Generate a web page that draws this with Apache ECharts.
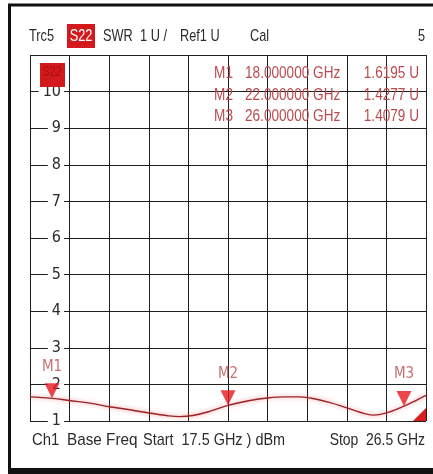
<!DOCTYPE html>
<html>
<head>
<meta charset="utf-8">
<script src="https://cdn.jsdelivr.net/npm/echarts@6/dist/echarts.min.js"></script>
<style>
  html, body { margin: 0; padding: 0; background: #fff; }
  #chart { width: 433px; height: 474px; }
</style>
</head>
<body>
<div id="chart"></div>
<script>
// trace S22 SWR
var freq = [17.5, 18.0, 18.4, 18.9, 19.3, 19.8, 20.2, 20.6, 20.9, 21.2, 21.6, 22.0, 22.5, 22.9, 23.3, 23.6, 23.9, 24.3, 24.7, 25.0, 25.3, 25.6, 26.0, 26.3, 26.5];
var swr = [1.66, 1.6195, 1.56, 1.48, 1.39, 1.30, 1.22, 1.15, 1.12, 1.15, 1.27, 1.4277, 1.56, 1.63, 1.66, 1.66, 1.62, 1.51, 1.36, 1.24, 1.16, 1.22, 1.4079, 1.58, 1.70];

// markers
var markerNames = ['M1', 'M2', 'M3'];
var markerFreq = [18.0, 22.0, 26.0];
var markerSwr = [1.6195, 1.4277, 1.4079];

var yTicks = [1, 2, 3, 4, 5, 6, 7, 8, 9, 10];

var sans = "'Liberation Sans', Arial, sans-serif";
var cond = "'DejaVu Sans Condensed', 'Liberation Sans', sans-serif";
var textCol = '#2b2b2b';
var mkCol = '#bb4a4e';

var chartDom = document.getElementById('chart');
var myChart = echarts.init(chartDom);

var traceData = freq.map(function (f, i) { return [f, swr[i]]; });
var markerData = markerFreq.map(function (f, i) { return [f, markerSwr[i]]; });

// text drawn squeezed sideways, like the analyser's narrow font
function txt(x, y, s, opt) {
  opt = opt || {};
  return {
    type: 'text',
    x: x,
    y: y,
    scaleX: opt.sx || 0.8,
    z: 20,
    style: {
      text: s,
      font: (opt.size || 16) + 'px ' + sans,
      fill: opt.color || textCol,
      textAlign: opt.align || 'left',
      textVerticalAlign: 'middle'
    }
  };
}

var graphics = [
  // outer frame
  { type: 'rect', shape: { x: 9.5, y: 5, width: 440, height: 465 }, style: { fill: 'none', stroke: '#111', lineWidth: 3 }, z: 20 },
  { type: 'rect', shape: { x: 8, y: 468, width: 440, height: 6 }, style: { fill: '#111' }, z: 20 },
  // header
  txt(29, 36, 'Trc5', { size: 17, sx: 0.75 }),
  { type: 'rect', shape: { x: 67, y: 24, width: 28, height: 24 }, style: { fill: '#d4191c' }, z: 20 },
  txt(81, 36, 'S22', { color: '#fff', align: 'center', size: 17, sx: 0.75 }),
  txt(103, 36, 'SWR', { size: 17, sx: 0.75 }),
  txt(140, 36, '1 U /', { size: 17, sx: 0.75 }),
  txt(180, 36, 'Ref1 U', { size: 17, sx: 0.75 }),
  txt(250, 36, 'Cal', { size: 17, sx: 0.75 }),
  txt(425, 36, '5', { align: 'right', size: 17, sx: 0.75 }),
  // trace label box inside grid
  { type: 'rect', shape: { x: 40, y: 63, width: 25, height: 24 }, style: { fill: '#d4191c' }, z: 20 },
  txt(52, 72, 'S22', { color: '#a80e12', align: 'center', size: 14 }),
  // footer
  txt(32, 440, 'Ch1', { size: 17, sx: 0.88 }),
  txt(67, 440, 'Base Freq', { size: 17, sx: 0.9 }),
  txt(143, 440, 'Start  17.5 GHz ) dBm', { size: 17, sx: 0.85 }),
  txt(425, 440, 'Stop  26.5 GHz', { align: 'right', size: 17, sx: 0.82 })
];

// marker readout table
var rowY = [74, 96, 117];
markerNames.forEach(function (n, i) {
  graphics.push(txt(233, rowY[i], n, { color: mkCol, align: 'right', sx: 0.85 }));
  graphics.push(txt(245, rowY[i], markerFreq[i].toFixed(6) + ' GHz', { color: mkCol, sx: 0.85 }));
  graphics.push(txt(419, rowY[i], markerSwr[i].toFixed(4) + ' U', { color: mkCol, align: 'right', sx: 0.85 }));
});

var option = {
  animation: false,
  backgroundColor: '#fff',
  grid: { left: 30, right: 7, top: 55, bottom: 53 },
  xAxis: [
    { type: 'value', min: 17.5, max: 26.5, show: false },
    {
      type: 'value', min: 0, max: 10, interval: 1, position: 'bottom',
      axisLine: { show: false }, axisTick: { show: false }, axisLabel: { show: false },
      splitLine: { show: true, lineStyle: { color: '#1e1e1e', width: 1 } }
    }
  ],
  yAxis: [
    {
      type: 'value', min: 1, max: 11, interval: 1,
      axisLine: { show: false }, axisTick: { show: false }, axisLabel: { show: false },
      splitLine: { show: true, lineStyle: { color: '#1e1e1e', width: 1 } }
    },
    {
      type: 'value', min: 1, max: 11, interval: 1, position: 'left', z: 10,
      axisLine: { show: false }, axisTick: { show: false }, splitLine: { show: false },
      axisLabel: {
        inside: true, margin: 34, align: 'right',
        color: textCol, fontSize: 16, fontFamily: cond,
        backgroundColor: '#fff', padding: [0, 3, 0, 4],
        formatter: function (v) { return yTicks.indexOf(v) >= 0 ? String(v) : ''; }
      }
    }
  ],
  series: [
    {
      name: 'S22',
      type: 'line',
      xAxisIndex: 0,
      yAxisIndex: 0,
      data: traceData,
      symbol: 'none',
      smooth: 0.4,
      lineStyle: { color: '#9a2429', width: 1.4, shadowColor: 'rgba(235,90,90,0.75)', shadowBlur: 4 },
      markPoint: {
        symbol: 'path://M10,0 L10,10 L0,10 Z',
        symbolSize: 13,
        symbolOffset: ['-50%', '-50%'],
        itemStyle: { color: '#d81e1e' },
        label: { show: false },
        data: [{ coord: [26.5, 1] }]
      },
      z: 3
    },
    {
      name: 'markers',
      type: 'scatter',
      xAxisIndex: 0,
      yAxisIndex: 0,
      data: markerData,
      symbol: 'path://M0,0 L10,0 L5,10 Z',
      symbolSize: [15, 15],
      symbolOffset: [0, '-50%'],
      itemStyle: { color: '#e3171d' },
      label: {
        show: true,
        position: 'top',
        distance: 9,
        color: mkCol,
        fontSize: 15,
        fontFamily: cond,
        formatter: function (p) { return markerNames[p.dataIndex]; }
      },
      z: 12
    }
  ],
  graphic: graphics
};

myChart.setOption(option);
</script>
</body>
</html>
